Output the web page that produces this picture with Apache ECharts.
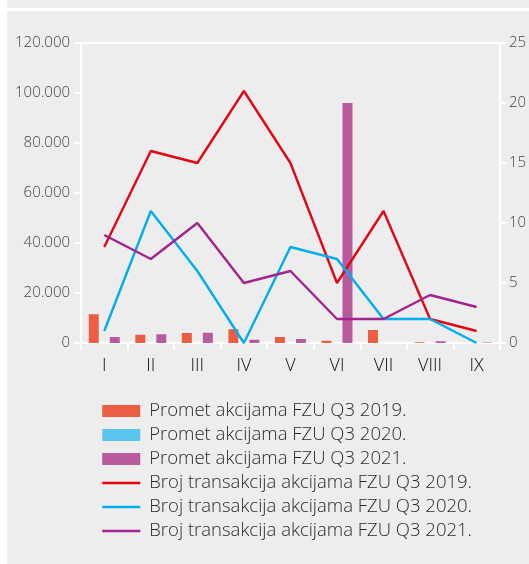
<!DOCTYPE html>
<html>
<head>
<meta charset="utf-8">
<script src="https://cdn.jsdelivr.net/npm/echarts@6/dist/echarts.min.js"></script>
<style>
  html, body { margin: 0; padding: 0; background: #fff; }
  #container { width: 529px; height: 564px; }
</style>
</head>
<body>
<div id="container"></div>
<script>
var months = ['I', 'II', 'III', 'IV', 'V', 'VI', 'VII', 'VIII', 'IX'];
var leftTicks = [0, 20000, 40000, 60000, 80000, 100000, 120000];
var rightTicks = [0, 5, 10, 15, 20, 25];

// promet akcijama (lijeva osa)
var promet2019 = [11500, 3300, 4000, 5500, 2400, 900, 5200, 300, 0];
var promet2020 = [0, 0, 0, 0, 0, 0, 0, 0, 0];
var promet2021 = [2400, 3500, 4100, 1300, 1600, 96000, 0, 700, 200];

// broj transakcija (desna osa)
var broj2019 = [8, 16, 15, 21, 15, 5, 11, 2, 1];
var broj2020 = [1, 11, 6, 0, 8, 7, 2, 2, 0];
var broj2021 = [9, 7, 10, 5, 6, 2, 2, 4, 3];

var names = [
    'Promet akcijama FZU Q3 2019.',
    'Promet akcijama FZU Q3 2020.',
    'Promet akcijama FZU Q3 2021.',
    'Broj transakcija akcijama FZU Q3 2019.',
    'Broj transakcija akcijama FZU Q3 2020.',
    'Broj transakcija akcijama FZU Q3 2021.'
];

var font = '"Open Sans", "Noto Sans", sans-serif';

function thousands(v){
    return String(v).replace(/\B(?=(\d{3})+(?!\d))/g, '.');
}

var myChart = echarts.init(document.getElementById('container'));

function barSeries(name, data, color){
    return {
        name: name,
        type: 'bar',
        yAxisIndex: 0,
        barWidth: 10,
        barGap: '5%',
        itemStyle: { color: color },
        data: data
    };
}

function lineSeries(name, data, color){
    return {
        name: name,
        type: 'line',
        yAxisIndex: 1,
        symbol: 'none',
        showSymbol: false,
        z: 3,
        lineStyle: { color: color, width: 2.4 },
        itemStyle: { color: color },
        data: data
    };
}

var option = {
    animation: false,
    backgroundColor: '#fff',
    textStyle: { fontFamily: font, fontWeight: 300 },
    graphic: [
        { type: 'rect', z: -10, shape: { x: 7, y: 0, width: 522, height: 8 }, style: { fill: '#ededed' } },
        { type: 'rect', z: -10, shape: { x: 7, y: 11, width: 522, height: 553 }, style: { fill: '#ededed' } }
    ],
    grid: {
        left: 81, right: 26, top: 43, bottom: 221,
        show: true,
        borderColor: '#fff',
        borderWidth: 2,
        backgroundColor: 'transparent'
    },
    legend: {
        orient: 'vertical',
        left: 101,
        top: 401,
        padding: 0,
        itemWidth: 38,
        itemHeight: 12,
        itemGap: 4,
        textStyle: { fontFamily: font, fontWeight: 300, fontSize: 18.5, color: '#2a2a2a', lineHeight: 20, padding: [0, 0, 0, 4] },
        data: [
            { name: names[0], icon: 'rect' },
            { name: names[1], icon: 'rect' },
            { name: names[2], icon: 'rect' },
            { name: names[3], itemStyle: { opacity: 0 }, lineStyle: { width: 2.5 } },
            { name: names[4], itemStyle: { opacity: 0 }, lineStyle: { width: 2.5 } },
            { name: names[5], itemStyle: { opacity: 0 }, lineStyle: { width: 2.5 } }
        ]
    },
    xAxis: {
        type: 'category',
        data: months,
        axisLine: { lineStyle: { color: '#fff', width: 2 } },
        axisTick: { show: true, length: 7, lineStyle: { color: '#fff', width: 2 } },
        axisLabel: { color: '#111', fontSize: 18, fontWeight: 300, margin: 14, fontFamily: font }
    },
    yAxis: [
        {
            type: 'value',
            min: leftTicks[0],
            max: leftTicks[leftTicks.length - 1],
            interval: leftTicks[1] - leftTicks[0],
            position: 'left',
            splitLine: { show: false },
            axisLine: { show: true, lineStyle: { color: '#fff', width: 2 } },
            axisTick: { show: true, length: 7, lineStyle: { color: '#fff', width: 2 } },
            axisLabel: { color: '#444', fontSize: 15, fontWeight: 300, margin: 11, fontFamily: font, formatter: thousands }
        },
        {
            type: 'value',
            min: rightTicks[0],
            max: rightTicks[rightTicks.length - 1],
            interval: rightTicks[1] - rightTicks[0],
            position: 'right',
            splitLine: { show: false },
            axisLine: { show: true, lineStyle: { color: '#fff', width: 2 } },
            axisTick: { show: true, length: 6, lineStyle: { color: '#fff', width: 2 } },
            axisLabel: { color: '#444', fontSize: 15, fontWeight: 300, margin: 9, fontFamily: font }
        }
    ],
    series: [
        barSeries(names[0], promet2019, '#eb5e43'),
        barSeries(names[1], promet2020, '#5bc5f2'),
        barSeries(names[2], promet2021, '#b85b9e'),
        lineSeries(names[3], broj2019, '#e30613'),
        lineSeries(names[4], broj2020, '#00aeef'),
        lineSeries(names[5], broj2021, '#a3238e')
    ]
};

myChart.setOption(option);
</script>
</body>
</html>
